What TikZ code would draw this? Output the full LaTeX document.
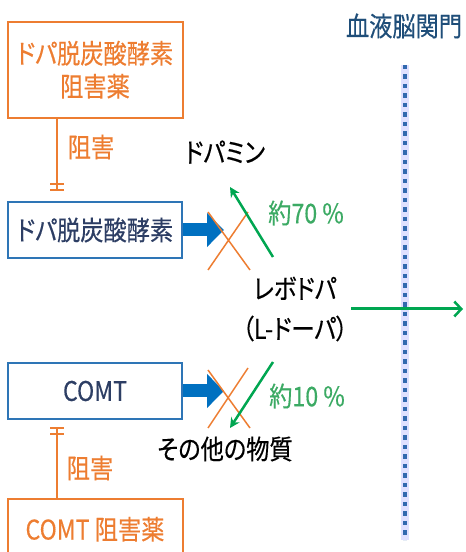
\documentclass[tikz,border=0pt]{standalone}
\usepackage{fontspec}
\setmainfont{Noto Sans CJK JP}[RawFeature=+palt, FakeStretch=0.86, FakeBold=0.4]
\usetikzlibrary{arrows.meta, positioning}

\definecolor{orng}{RGB}{237,125,49}
\definecolor{bbox}{RGB}{46,117,182}
\definecolor{barrow}{RGB}{0,112,192}
\definecolor{grn}{RGB}{0,166,81}
\definecolor{grntxt}{RGB}{60,170,100}
\definecolor{navytxt}{RGB}{45,62,100}
\definecolor{ttl}{RGB}{31,78,121}
\definecolor{dotblue}{RGB}{50,105,175}

\begin{document}
\begin{tikzpicture}[x=1pt, y=1pt, font=\fontsize{27}{33}\selectfont]

    \tikzstyle{enzyme} = [draw=bbox, line width=2.5pt, rectangle, minimum width=174pt, minimum height=56pt, text=navytxt]
    \tikzstyle{inhib} = [draw=orng, line width=2pt, rectangle, minimum width=175pt, text=orng, align=center]
    \tikzstyle{inhibit} = [draw=orng, line width=1.5pt, -{Bar[width=14pt,line width=2pt,sep=4pt]Bar[width=14pt,line width=2pt]}]
    \tikzstyle{enzarrow} = [draw=barrow, line width=13pt, -{Triangle[length=17pt,width=33pt]}]
    \tikzstyle{cross} = [draw=orng, line width=1.5pt]
    \tikzstyle{flow} = [draw=grn, line width=2.5pt, -{Stealth[length=10pt,width=10pt]}]

    \clip (0,0) rectangle (466,552);

    % Enzymes
    \node [enzyme] (ddc) at (95,322) {ドパ脱炭酸酵素};
    \node [enzyme] (comt) at (95,161) {COMT};

    % Add the inhibitors
    \node [inhib, minimum height=96pt, above=82pt of ddc] (ddci) {ドパ脱炭酸酵素\\阻害薬};
    \node [inhib, minimum height=60pt, below=78pt of comt] (comti) {COMT 阻害薬};

    % Add the labels
    \node [text=orng] (inh1) at (91,405) {阻害};
    \node [text=orng] (inh2) at (90,84) {阻害};
    \node (dopa) at (225,400) {ドパミン};
    \node (other) at (225,103) {その他の物質};
    \node [align=center] (levo) at (295,243) {レボドパ\\[7pt]（L-ドーパ）};
    \node [text=grntxt] (p70) at (306,339) {約70 \%};
    \node [text=grntxt] (p10) at (307,156) {約10 \%};
    \node [text=ttl] (bbb) at (404,526) {血液脳関門};

    % Free arrow ends
    \coordinate (ddcx) at (224,322);
    \coordinate (comtx) at (224,161);
    \coordinate (xa) at (229,311);
    \coordinate (xb) at (229,153);
    \coordinate (up0) at (273,295);
    \coordinate (up1) at (230,365);
    \coordinate (dn0) at (273,190);
    \coordinate (dn1) at (230,124);
    \coordinate (brain) at (463,243);
    \coordinate (bbbtop) at (405,487);
    \coordinate (bbbend) at (405,12);

    % Blood-brain barrier
    \draw[blue!12, line width=8pt] (bbbtop) -- (bbbend);
    \draw[dotblue, line width=4pt, dash pattern=on 4.5pt off 5pt] (bbbtop) -- (bbbend);

    % Inhibition and enzyme reactions
    \draw
        ([xshift=-38pt]ddci.south) edge[inhibit, shorten >=10pt] ([xshift=-38pt]ddc.north)
        ([xshift=-38pt]comti.north) edge[inhibit, shorten >=7pt] ([xshift=-38pt]comt.south)
        (ddc) edge[enzarrow] (ddcx)
        (comt) edge[enzarrow] (comtx);

    % Crossed out
    \draw[cross] ([shift={(-21,29)}]xa) -- ([shift={(21,-29)}]xa)
                 ([shift={(-21,-29)}]xa) -- ([shift={(19,29)}]xa);
    \draw[cross] ([shift={(-21,29)}]xb) -- ([shift={(21,-29)}]xb)
                 ([shift={(-21,-29)}]xb) -- ([shift={(19,31)}]xb);

    % Levodopa flows
    \draw
        (up0) edge[flow] (up1)
        (dn0) edge[flow] (dn1)
        (levo) edge[flow, line width=3pt, -{Straight Barb[length=7pt,width=15pt,line width=2.5pt]}] (brain);

\end{tikzpicture}
\end{document}
